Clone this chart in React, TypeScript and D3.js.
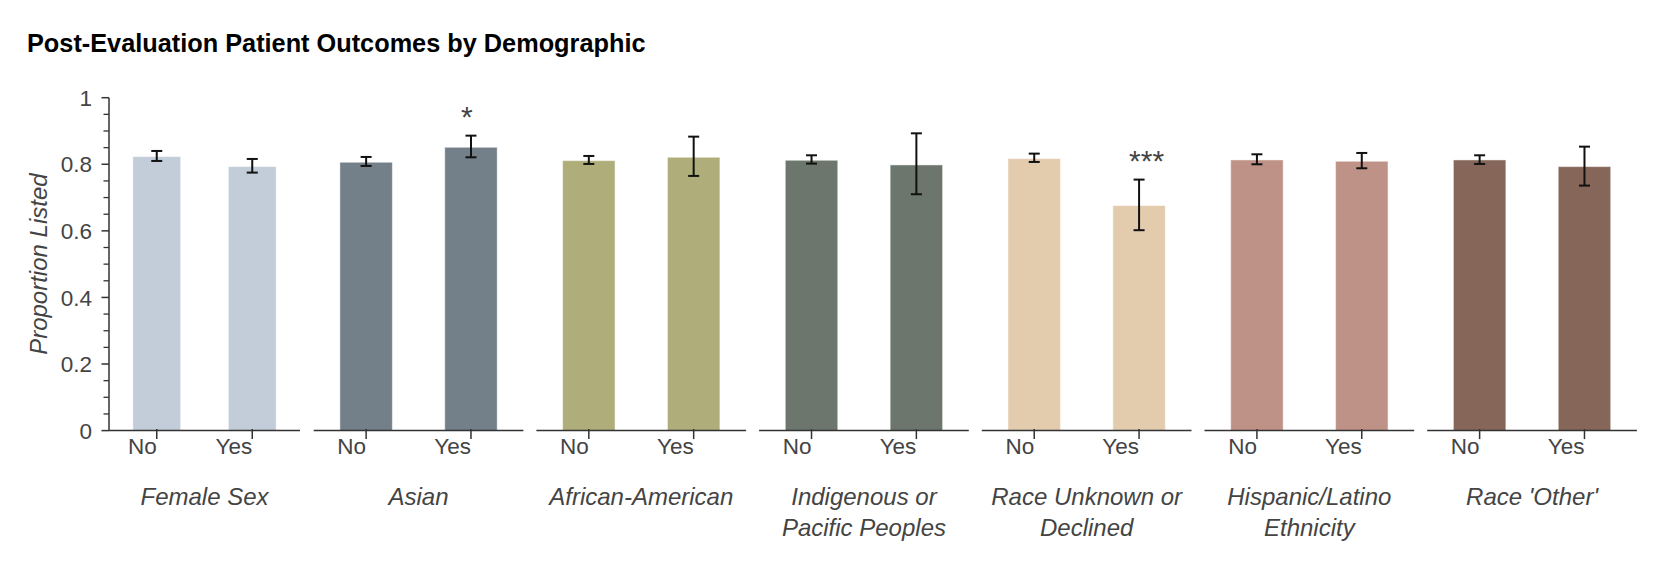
import { useEffect, useRef } from 'react';
import * as d3 from 'd3';

// Chart values
const categories = [
  'Female Sex',
  'Asian',
  'African-American',
  'Indigenous or\nPacific Peoples',
  'Race Unknown or\nDeclined',
  'Hispanic/Latino\nEthnicity',
  "Race 'Other'",
];
const groups = ['No', 'Yes'];
const noValues = [0.823, 0.806, 0.811, 0.812, 0.817, 0.813, 0.813];
const noLower = [0.81, 0.795, 0.801, 0.802, 0.807, 0.8, 0.801];
const noUpper = [0.84, 0.822, 0.825, 0.827, 0.832, 0.83, 0.827];
const yesValues = [0.793, 0.851, 0.821, 0.798, 0.676, 0.809, 0.793];
const yesLower = [0.775, 0.821, 0.765, 0.71, 0.602, 0.788, 0.736];
const yesUpper = [0.816, 0.886, 0.883, 0.893, 0.754, 0.834, 0.853];
const significance = ['', '*', '', '', '***', '', ''];
const barColors = ['#c2cdd9', '#737f89', '#afae7b', '#6c766c', '#e3cbae', '#bf9287', '#856659'];
const yTicks = [0, 0.2, 0.4, 0.6, 0.8, 1];

const FONT = 'Helvetica, Arial, "Liberation Sans", sans-serif';
const TEXT = '#444';
const AXIS = '#333';

export default function App() {
  const svgRef = useRef<SVGSVGElement | null>(null);

  const width = 1662;
  const height = 570;
  const plotTop = 97.7;
  const plotBottom = 430.6;

  useEffect(() => {
    const svg = d3.select(svgRef.current);
    svg.selectAll('*').remove();

    // Title
    svg
      .append('text')
      .attr('x', 27)
      .attr('y', 52)
      .attr('font-family', FONT)
      .attr('font-weight', 'bold')
      .attr('font-size', 25.3)
      .attr('fill', '#000')
      .text('Post-Evaluation Patient Outcomes by Demographic');

    const yScale = d3.scaleLinear().domain([0, 1]).range([plotBottom, plotTop]);

    // Panel extents: first panel is narrower, the others share one width
    const panels = categories.map((_, i) => {
      if (i === 0) return [109, 300];
      const start = 313.7 + (i - 1) * 222.7;
      return [start, start + 209.7];
    });

    // Y axis
    const yAxis = svg.append('g').attr('transform', `translate(109,0)`);
    yAxis
      .append('line')
      .attr('y1', yScale(0))
      .attr('y2', yScale(1))
      .attr('stroke', AXIS)
      .attr('stroke-width', 1.5);

    const minor = yScale.ticks(25).filter((t) => Math.abs(t * 5 - Math.round(t * 5)) > 1e-6);
    yAxis
      .selectAll('.minor')
      .data(minor)
      .enter()
      .append('line')
      .attr('x1', -5.5)
      .attr('x2', 0)
      .attr('y1', (d) => yScale(d))
      .attr('y2', (d) => yScale(d))
      .attr('stroke', AXIS)
      .attr('stroke-width', 1.3);

    yAxis
      .selectAll('.major')
      .data(yTicks)
      .enter()
      .append('line')
      .attr('x1', -7.5)
      .attr('x2', 0)
      .attr('y1', (d) => yScale(d))
      .attr('y2', (d) => yScale(d))
      .attr('stroke', AXIS)
      .attr('stroke-width', 1.5);

    yAxis
      .selectAll('.ylab')
      .data(yTicks)
      .enter()
      .append('text')
      .attr('x', -17)
      .attr('y', (d) => yScale(d))
      .attr('dy', '0.36em')
      .attr('text-anchor', 'end')
      .attr('font-family', FONT)
      .attr('font-size', 22.5)
      .attr('fill', TEXT)
      .text((d) => String(d));

    svg
      .append('text')
      .attr('transform', `translate(47,${(plotTop + plotBottom) / 2}) rotate(-90)`)
      .attr('text-anchor', 'middle')
      .attr('font-family', FONT)
      .attr('font-style', 'italic')
      .attr('font-size', 24)
      .attr('fill', TEXT)
      .text('Proportion Listed');

    // One panel per demographic
    categories.forEach((cat, i) => {
      const [x0, x1] = panels[i];
      const xScale = d3
        .scaleBand<string>()
        .domain(groups)
        .range([x0, x1])
        .paddingInner(0.5)
        .paddingOuter(0.25);

      const rows = [
        { g: 'No', v: noValues[i], lo: noLower[i], hi: noUpper[i] },
        { g: 'Yes', v: yesValues[i], lo: yesLower[i], hi: yesUpper[i] },
      ];

      const p = svg.append('g');

      // bars
      p.selectAll('rect')
        .data(rows)
        .enter()
        .append('rect')
        .attr('x', (d) => xScale(d.g)!)
        .attr('width', xScale.bandwidth())
        .attr('y', (d) => yScale(d.v))
        .attr('height', (d) => yScale(0) - yScale(d.v))
        .attr('fill', barColors[i])
        .attr('stroke', 'rgba(255,255,255,0.45)')
        .attr('stroke-width', 1);

      // error bars
      rows.forEach((d) => {
        const cx = xScale(d.g)! + xScale.bandwidth() / 2;
        p.append('line')
          .attr('x1', cx)
          .attr('x2', cx)
          .attr('y1', yScale(d.lo))
          .attr('y2', yScale(d.hi))
          .attr('stroke', '#111')
          .attr('stroke-width', 2);
        [d.lo, d.hi].forEach((v) => {
          p.append('line')
            .attr('x1', cx - 5.5)
            .attr('x2', cx + 5.5)
            .attr('y1', yScale(v))
            .attr('y2', yScale(v))
            .attr('stroke', '#111')
            .attr('stroke-width', 2);
        });
      });

      // significance stars above the "Yes" bar
      if (significance[i]) {
        const cx = xScale('Yes')! + xScale.bandwidth() / 2;
        p.append('text')
          .attr('x', cx - 10)
          .attr('y', yScale(yesUpper[i]) - 9)
          .attr('font-family', FONT)
          .attr('font-size', 30)
          .attr('fill', TEXT)
          .text(significance[i]);
      }

      // x axis segment
      p.append('line')
        .attr('x1', x0)
        .attr('x2', x1)
        .attr('y1', yScale(0))
        .attr('y2', yScale(0))
        .attr('stroke', AXIS)
        .attr('stroke-width', 1.5);

      groups.forEach((g) => {
        const cx = xScale(g)! + xScale.bandwidth() / 2;
        p.append('line')
          .attr('x1', cx)
          .attr('x2', cx)
          .attr('y1', yScale(0) - 1.5)
          .attr('y2', yScale(0) + 8.5)
          .attr('stroke', AXIS)
          .attr('stroke-width', 1.5);
        p.append('text')
          .attr('x', cx)
          .attr('y', 454)
          .attr('text-anchor', 'end')
          .attr('font-family', FONT)
          .attr('font-size', 22.5)
          .attr('fill', TEXT)
          .text(g);
      });

      // category label
      const lines = cat.split('\n');
      const label = p
        .append('text')
        .attr('text-anchor', 'middle')
        .attr('font-family', FONT)
        .attr('font-style', 'italic')
        .attr('font-size', 24)
        .attr('fill', TEXT);
      lines.forEach((line, k) => {
        label
          .append('tspan')
          .attr('x', (x0 + x1) / 2)
          .attr('y', 505 + k * 31)
          .text(line);
      });
    });
  }, []);

  return (
    <div style={{ position: 'absolute', left: 0, top: 0, background: '#fff' }}>
      <svg ref={svgRef} width={width} height={height}></svg>
    </div>
  );
}
